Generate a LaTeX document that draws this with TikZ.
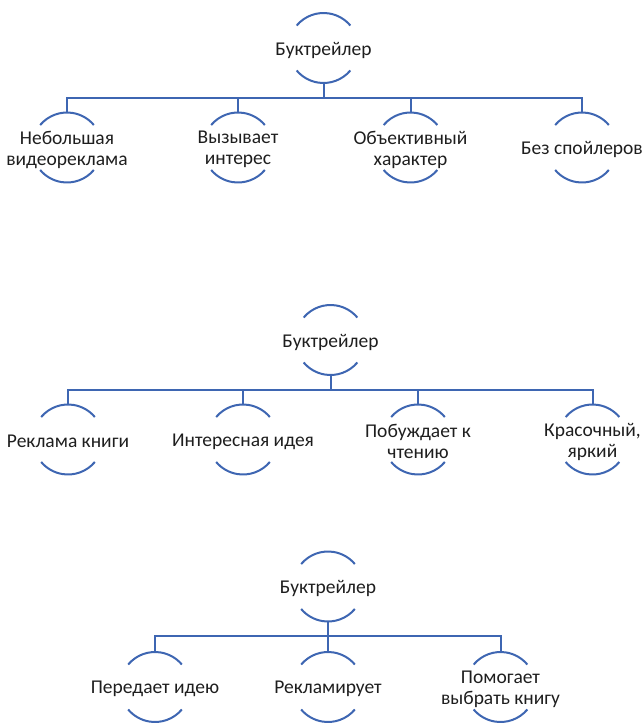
\documentclass[tikz,border=0pt]{standalone}
\usepackage{fontspec}
\setmainfont{Carlito}
\usetikzlibrary{calc}
\definecolor{arcblue}{RGB}{62,102,178}
\definecolor{txt}{RGB}{30,30,30}
\tikzset{
  lbl/.style={font=\fontsize{19.5}{21}\selectfont, text=txt, align=center, inner sep=0pt},
  arcl/.style={draw=arcblue, line width=2pt},
  conn/.style={draw=arcblue, line width=2pt},
}
\newcommand{\arcnode}[4]{%
  \coordinate (#1) at (#2,#3);
  \node[lbl] (#1-txt) at ($(#1)+(0,2)$) {#4};
  \draw[arcl] (#1) ++(220:35) arc[start angle=220,end angle=320,radius=35];
  \draw[arcl] (#1) ++(40:35) arc[start angle=40,end angle=140,radius=35];
  \coordinate (#1-t) at ($(#1)+(0,-35)$);
  \coordinate (#1-b) at ($(#1)+(0,35)$);
}
\begin{document}
\begin{tikzpicture}[x=1pt,y=-1pt]
\useasboundingbox (0,0) rectangle (643,723);
% ---------- diagram 1
\arcnode{a0}{323.5}{48}{Буктрейлер}
\arcnode{a1}{67}{147.5}{Небольшая\\видеореклама}
\arcnode{a2}{238}{147.5}{Вызывает\\интерес}
\arcnode{a3}{410.5}{147.5}{Объективный\\характер}
\arcnode{a4}{582}{147.5}{Без спойлеров}
\coordinate (h1) at (0,98);
\foreach \c in {a1,a2,a3,a4}{
  \draw[conn] (a0-b) -- (a0-b |- h1) -| (\c-t);
}
% ---------- diagram 2
\arcnode{b0}{330.5}{340}{Буктрейлер}
\arcnode{b1}{68}{439.5}{Реклама книги}
\arcnode{b2}{243}{439.5}{Интересная идея}
\arcnode{b3}{418}{439.5}{Побуждает к\\чтению}
\arcnode{b4}{592.5}{439.5}{Красочный,\\яркий}
\coordinate (h2) at (0,389.5);
\foreach \c in {b1,b2,b3,b4}{
  \draw[conn] (b0-b) -- (b0-b |- h2) -| (\c-t);
}
% ---------- diagram 3
\arcnode{c0}{328}{586.5}{Буктрейлер}
\arcnode{c1}{155}{687}{Передает идею}
\arcnode{c2}{328}{687}{Рекламирует}
\arcnode{c3}{500.5}{687}{Помогает\\выбрать книгу}
\coordinate (h3) at (0,636);
\foreach \c in {c1,c2,c3}{
  \draw[conn] (c0-b) -- (c0-b |- h3) -| (\c-t);
}
\end{tikzpicture}
\end{document}
